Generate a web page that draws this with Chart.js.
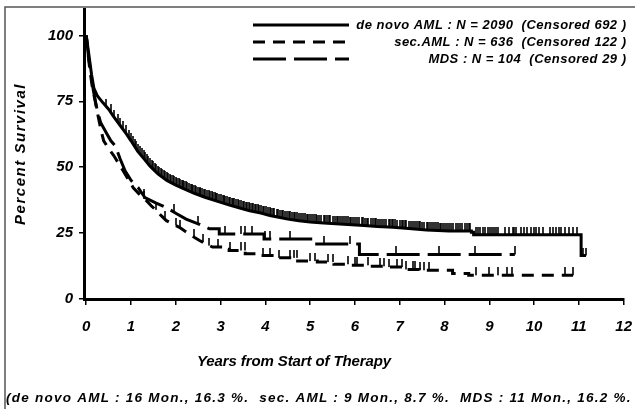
<!DOCTYPE html>
<html>
<head>
<meta charset="utf-8">
<script src="https://cdn.jsdelivr.net/npm/chart.js@4"></script>
<style>
  html, body { margin: 0; padding: 0; background: #fff; overflow: hidden; }
  #wrap { width: 645px; height: 409px; }
</style>
</head>
<body>
<div id="wrap"><canvas id="km" width="645" height="409"></canvas></div>
<script>
// Kaplan-Meier curves: time in years, survival in %
const denovoTime = [0, 0.04, 0.08, 0.12, 0.17, 0.25, 0.37, 0.5, 0.6, 0.75, 0.9, 1.0, 1.15, 1.3, 1.42, 1.6, 1.8, 2.0, 2.16, 2.4, 2.65, 2.9, 3.2, 3.45, 3.65, 3.9, 4.1, 4.3, 4.5, 4.75, 5.0, 5.3, 5.75, 6.2, 6.5, 6.85, 7.2, 7.6, 8.1, 8.6, 8.65, 11.05, 11.16];
const denovoSurv = [100, 95, 90, 85, 80, 77, 74.5, 72, 69.5, 66, 62.5, 60, 56, 53, 50.5, 47.5, 45, 43.2, 42, 40.2, 38.6, 37.2, 35.6, 34.4, 33.5, 32.6, 31.7, 31, 30.3, 29.7, 29.2, 28.8, 28.4, 27.9, 27.5, 27.2, 26.7, 26.2, 25.8, 25.3, 24.4, 16.5, 16.5];

const secTime = [0, 0.04, 0.08, 0.13, 0.2, 0.27, 0.33, 0.39, 0.5, 0.61, 0.72, 0.83, 0.95, 1.05, 1.2, 1.35, 1.46, 1.57, 1.68, 1.79, 1.95, 2.08, 2.2, 2.3, 2.42, 2.53, 2.68, 2.82, 3.0, 3.19, 3.55, 3.9, 4.29, 4.72, 5.16, 5.53, 5.89, 6.34, 6.7, 7.07, 7.44, 8.18, 8.54, 10.87];
const secSurv = [100, 93, 87, 81, 75, 69, 64, 60, 57, 54.5, 51.5, 48.5, 45, 42.2, 39.5, 37.2, 35.2, 33.5, 31.5, 29.7, 28.3, 27.2, 25.8, 24.7, 23.3, 22.2, 20.8, 19.7, 18.9, 18.4, 17.2, 16.5, 15.6, 14.4, 14.0, 13.2, 12.8, 12.4, 12.1, 11.2, 10.9, 9.7, 9.0, 9.0];

const mdsTime = [0, 0.05, 0.1, 0.16, 0.24, 0.32, 0.45, 0.55, 0.65, 0.76, 0.87, 1.0, 1.16, 1.31, 1.55, 1.79, 2.0, 2.23, 2.5, 2.75, 2.97, 3.97, 5.1, 6.1, 9.57];
const mdsSurv = [100, 92, 86, 79, 72, 67, 63, 60, 58, 53, 48.5, 45, 42.2, 38.5, 36.5, 34.7, 32.5, 30.3, 28.5, 26.6, 24.7, 22.8, 20.9, 16.9, 16.9];

// up to these times the many small steps blur into a smooth curve; after them the steps show
const smoothUntil = [8.1, 2.9, 2.9];

// censored observations (years)
const denovoCens = [0.45, 0.55, 0.63, 0.7, 0.76, 0.82, 0.88, 0.95, 1.0, 1.05, 1.09, 1.12, 1.16, 1.2, 1.24, 1.28, 1.31, 1.35, 1.39, 1.43, 1.47, 1.5, 1.53, 1.56, 1.6, 1.63, 1.67, 1.7, 1.73, 1.76, 1.8, 1.83, 1.86, 1.9, 1.93, 1.96, 2.0, 2.03, 2.07, 2.1, 2.13, 2.15, 2.19, 2.22, 2.26, 2.3, 2.33, 2.36, 2.39, 2.42, 2.46, 2.5, 2.53, 2.55, 2.59, 2.62, 2.66, 2.7, 2.73, 2.76, 2.8, 2.83, 2.87, 2.9, 2.93, 2.97, 3.01, 3.05, 3.08, 3.1, 3.14, 3.18, 3.21, 3.25, 3.28, 3.3, 3.34, 3.38, 3.41, 3.45, 3.49, 3.52, 3.56, 3.6, 3.63, 3.66, 3.7, 3.73, 3.77, 3.8, 3.83, 3.86, 3.9, 3.95, 3.98, 4.02, 4.06, 4.1, 4.13, 4.16, 4.2, 4.25, 4.29, 4.33, 4.37, 4.4, 4.44, 4.48, 4.52, 4.55, 4.59, 4.63, 4.67, 4.7, 4.75, 4.8, 4.84, 4.88, 4.92, 4.95, 5.0, 5.05, 5.09, 5.12, 5.16, 5.2, 5.25, 5.3, 5.34, 5.38, 5.42, 5.45, 5.5, 5.55, 5.59, 5.62, 5.66, 5.7, 5.75, 5.8, 5.84, 5.88, 5.92, 5.96, 6.0, 6.05, 6.1, 6.15, 6.19, 6.22, 6.26, 6.3, 6.35, 6.4, 6.44, 6.48, 6.52, 6.56, 6.6, 6.65, 6.7, 6.75, 6.79, 6.82, 6.86, 6.9, 6.95, 7.0, 7.04, 7.08, 7.12, 7.15, 7.2, 7.25, 7.29, 7.33, 7.38, 7.42, 7.46, 7.5, 7.55, 7.6, 7.64, 7.68, 7.72, 7.76, 7.8, 7.85, 7.89, 7.93, 7.97, 8.02, 8.06, 8.1, 8.15, 8.2, 8.25, 8.3, 8.35, 8.4, 8.45, 8.5, 8.55, 8.58, 8.7, 8.75, 8.8, 8.85, 8.9, 8.96, 9.02, 9.06, 9.1, 9.15, 9.2, 9.35, 9.45, 9.52, 9.56, 9.6, 9.7, 9.78, 9.85, 9.92, 10.0, 10.05, 10.1, 10.2, 10.35, 10.42, 10.5, 10.55, 10.6, 10.7, 10.78, 10.86, 10.95, 11.1, 11.16];
const secCens = [1.3, 1.55, 1.75, 2.0, 2.1, 2.4, 2.6, 2.75, 2.95, 3.2, 3.45, 3.55, 3.95, 4.1, 4.3, 4.55, 4.65, 4.7, 5.0, 5.1, 5.4, 5.5, 5.85, 6.0, 6.05, 6.3, 6.55, 6.65, 6.75, 6.95, 7.05, 7.15, 7.3, 7.35, 7.45, 7.55, 7.65, 8.7, 9.0, 9.2, 9.4, 9.5, 10.7, 10.87];
const mdsCens = [1.3, 1.95, 2.5, 3.1, 3.45, 3.55, 3.7, 3.99, 4.1, 4.56, 5.3, 5.89, 6.92, 7.88, 8.67, 9.57];

const xTicks = [0, 1, 2, 3, 4, 5, 6, 7, 8, 9, 10, 11, 12];
const yTicks = [0, 25, 50, 75, 100];

const legendLabels = [
    'de novo AML : N = 2090  (Censored 692 )',
    'sec.AML : N = 636  (Censored 122 )',
    'MDS : N = 104  (Censored 29 )'
];
const dashes = [[], [12, 8], [33, 8]];
const footnote = '(de novo AML : 16 Mon., 16.3 %.  sec. AML : 9 Mon., 8.7 %.  MDS : 11 Mon., 16.2 %.';

const FAMILY = '"Liberation Sans", Arial, sans-serif';

// line points: straight joins while the curve is smooth, then drop-at-event steps
function toPoints(ts, ss, until) {
    const pts = [];
    ts.forEach((t, i) => {
        if (i > 0 && t > until && ss[i] !== ss[i - 1]) {
            pts.push({ x: t, y: ss[i - 1] });
        }
        pts.push({ x: t, y: ss[i] });
    });
    return pts;
}

// height of the drawn line at time t, so a censor mark sits on it
function lineAt(pts, t) {
    for (let i = 1; i < pts.length; i++) {
        const a = pts[i - 1], b = pts[i];
        if (t >= a.x && t <= b.x) {
            if (b.x === a.x) return b.y;
            return a.y + (b.y - a.y) * (t - a.x) / (b.x - a.x);
        }
    }
    return pts[pts.length - 1].y;
}

// small vertical tick drawn above the point
const tickImg = document.createElement('canvas');
tickImg.width = 2;
tickImg.height = 16;
const tg = tickImg.getContext('2d');
tg.fillStyle = 'rgba(0,0,0,0.8)';
tg.fillRect(0, 0, 2, 8);

const curves = [
    toPoints(denovoTime, denovoSurv, smoothUntil[0]),
    toPoints(secTime, secSurv, smoothUntil[1]),
    toPoints(mdsTime, mdsSurv, smoothUntil[2])
];

function curve(pts, dash) {
    return {
        data: pts,
        showLine: true,
        borderColor: '#000',
        borderWidth: 3,
        borderDash: dash,
        pointRadius: 0,
        tension: 0,
        fill: false
    };
}

function marks(cens, pts) {
    return {
        data: cens.map(t => ({ x: t, y: lineAt(pts, t) })),
        showLine: false,
        pointStyle: tickImg,
        pointRadius: 3
    };
}

function spacedText(g, text, x, y, width, align) {
    g.letterSpacing = '0px';
    const w = g.measureText(text).width;
    const sp = (width - w) / text.length;
    g.letterSpacing = sp.toFixed(2) + 'px';
    g.textAlign = align;
    g.fillText(text, x, y);
    g.letterSpacing = '0px';
}

const decor = {
    id: 'decor',
    afterDraw(c) {
        const g = c.ctx;
        g.save();
        // frame of the figure
        g.strokeStyle = '#555';
        g.lineWidth = 1.5;
        g.beginPath();
        g.moveTo(5, 409);
        g.lineTo(5, 7);
        g.lineTo(645, 7);
        g.stroke();

        g.fillStyle = '#000';
        g.textBaseline = 'middle';

        // legend
        const rows = [25, 42, 59];
        g.font = 'italic bold 13px ' + FAMILY;
        g.letterSpacing = '0px';
        const w0 = g.measureText(legendLabels[0]).width;
        const sp = (270 - w0) / legendLabels[0].length;
        rows.forEach((y, i) => {
            g.strokeStyle = '#000';
            g.lineWidth = 3;
            g.setLineDash(dashes[i]);
            g.beginPath();
            g.moveTo(253, y);
            g.lineTo(349, y);
            g.stroke();
            g.setLineDash([]);
            g.letterSpacing = sp.toFixed(2) + 'px';
            g.textAlign = 'right';
            g.fillText(legendLabels[i], 626 + sp, y);
        });
        g.letterSpacing = '0px';

        // axis titles
        g.font = 'italic bold 15px ' + FAMILY;
        spacedText(g, 'Years from Start of Therapy', 294, 362, 194, 'center');

        g.save();
        g.translate(21, 154);
        g.rotate(-Math.PI / 2);
        spacedText(g, 'Percent Survival', 0, 0, 142, 'center');
        g.restore();

        // footnote
        g.font = 'italic bold 13.5px ' + FAMILY;
        spacedText(g, footnote, 6, 398, 626, 'left');

        g.restore();
    }
};

const tickFont = { family: FAMILY, size: 15, style: 'italic', weight: 'bold' };

const ctx = document.getElementById('km').getContext('2d');
const chart = new Chart(ctx, {
    type: 'scatter',
    data: {
        datasets: [
            curve(curves[0], dashes[0]),
            curve(curves[1], dashes[1]),
            curve(curves[2], dashes[2]),
            marks(denovoCens, curves[0]),
            marks(secCens, curves[1]),
            marks(mdsCens, curves[2])
        ]
    },
    options: {
        responsive: false,
        animation: false,
        layout: { padding: { top: 9, right: 15, left: 0, bottom: 0 } },
        plugins: {
            legend: { display: false },
            tooltip: { enabled: false }
        },
        scales: {
            x: {
                type: 'linear',
                min: -0.05,
                max: 12,
                afterBuildTicks: s => { s.ticks = xTicks.map(v => ({ value: v })); },
                afterFit: s => { s.height = 110; },
                grid: { drawOnChartArea: false, color: '#000', lineWidth: 1.5, tickLength: 6 },
                border: { color: '#000', width: 3 },
                ticks: { font: tickFont, color: '#000', padding: 13, maxRotation: 0 }
            },
            y: {
                min: 0,
                max: 110,
                afterBuildTicks: s => { s.ticks = yTicks.map(v => ({ value: v })); },
                afterFit: s => { s.width = 84; s.paddingTop = 0; s.paddingBottom = 0; },
                grid: { drawOnChartArea: false, color: '#000', lineWidth: 1.5, tickLength: 5 },
                border: { color: '#000', width: 3 },
                ticks: { font: tickFont, color: '#000', padding: 6 }
            }
        }
    },
    plugins: [decor]
});
</script>
</body>
</html>
